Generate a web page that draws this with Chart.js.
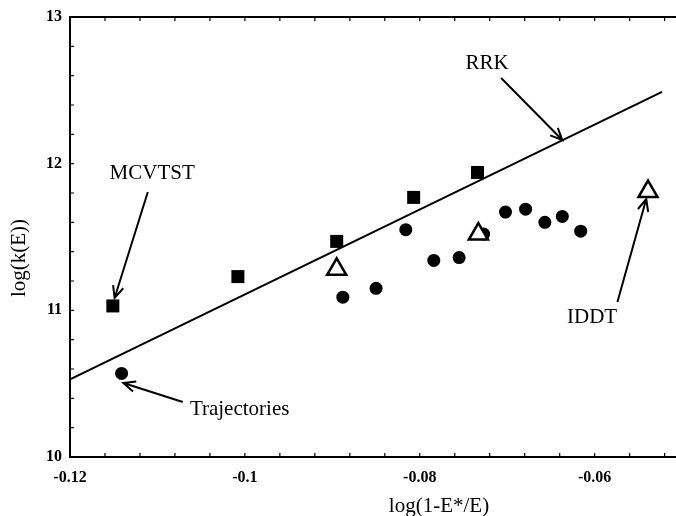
<!DOCTYPE html>
<html>
<head>
<meta charset="utf-8">
<script src="https://cdn.jsdelivr.net/npm/chart.js@4/dist/chart.umd.min.js"></script>
<style>
  html, body { margin: 0; padding: 0; background: #fff; overflow: hidden; }
  #wrap { width: 676px; height: 516px; position: relative; }
  #myChart { display: block; }
</style>
</head>
<body>
<div id="wrap"><canvas id="myChart"></canvas></div>
<script>
// MCVTST (squares)
var mcvtstX = [-0.1151, -0.1008, -0.0895, -0.0807, -0.0734];
var mcvtstY = [11.03, 11.23, 11.47, 11.77, 11.94];
// trajectories (filled circles)
var trajX = [-0.1141, -0.0888, -0.0850, -0.0816, -0.0784, -0.0755, -0.0727, -0.0702, -0.0679, -0.0657, -0.0637, -0.0616];
var trajY = [10.57, 11.09, 11.15, 11.55, 11.34, 11.36, 11.52, 11.67, 11.69, 11.60, 11.64, 11.54];
// IDDT (open triangles)
var iddtX = [-0.0895, -0.0733, -0.0539];
var iddtY = [11.28, 11.52, 11.81];
// RRK straight line
var rrkX = [-0.12, -0.0523];
var rrkY = [10.53, 12.49];

var xTickLabels = [-0.12, -0.1, -0.08, -0.06];
var yTickLabels = [10, 11, 12, 13];

// labels with arrows, in data units: text position, arrow start, arrow tip
var notes = [
    { text: 'RRK', tx: -0.0723, ty: 12.68, x1: -0.0707, y1: 12.584, x2: -0.0637, y2: 12.161 },
    { text: 'MCVTST', tx: -0.1106, ty: 11.93, x1: -0.1111, y1: 11.807, x2: -0.1149, y2: 11.084 },
    { text: 'Trajectories', tx: -0.1006, ty: 10.327, x1: -0.1071, y1: 10.375, x2: -0.1139, y2: 10.505 },
    { text: 'IDDT', tx: -0.0603, ty: 10.948, x1: -0.0574, y1: 11.057, x2: -0.0541, y2: 11.759 }
];

function pts(xs, ys) {
    return xs.map(function(x, i) { return { x: x, y: ys[i] }; });
}

function arrow(ctx, x1, y1, x2, y2) {
    var a = Math.atan2(y2 - y1, x2 - x1);
    var len = 13, spread = 0.42;
    ctx.beginPath();
    ctx.moveTo(x1, y1);
    ctx.lineTo(x2, y2);
    ctx.moveTo(x2 - len * Math.cos(a - spread), y2 - len * Math.sin(a - spread));
    ctx.lineTo(x2, y2);
    ctx.lineTo(x2 - len * Math.cos(a + spread), y2 - len * Math.sin(a + spread));
    ctx.stroke();
}

// frame, inward tick marks, axis titles and the arrow labels
var decorations = {
    id: 'decorations',
    afterDraw: function(chart) {
        var ctx = chart.ctx;
        var area = chart.chartArea;
        var xs = chart.scales.x, ys = chart.scales.y;
        ctx.save();
        ctx.strokeStyle = '#000';
        ctx.fillStyle = '#000';

        ctx.lineWidth = 2;
        ctx.beginPath();
        ctx.moveTo(area.right, area.top);
        ctx.lineTo(area.left, area.top);
        ctx.lineTo(area.left, area.bottom);
        ctx.lineTo(area.right, area.bottom);
        ctx.stroke();

        ctx.lineWidth = 1.2;
        ctx.beginPath();
        xs.ticks.forEach(function(t) {
            var px = xs.getPixelForValue(t.value);
            ctx.moveTo(px, area.bottom);
            ctx.lineTo(px, area.bottom - 4);
            ctx.moveTo(px, area.top);
            ctx.lineTo(px, area.top + 4);
        });
        ys.ticks.forEach(function(t) {
            var py = ys.getPixelForValue(t.value);
            ctx.moveTo(area.left, py);
            ctx.lineTo(area.left + 4, py);
        });
        ctx.stroke();

        ctx.font = '21px "Liberation Serif"';
        ctx.textAlign = 'center';
        ctx.textBaseline = 'middle';
        ctx.fillText('log(1-E*/E)', 439, 506);
        ctx.save();
        ctx.translate(19, 258);
        ctx.rotate(-Math.PI / 2);
        ctx.fillText('log(k(E))', 0, 0);
        ctx.restore();

        ctx.lineWidth = 2;
        notes.forEach(function(n) {
            ctx.fillText(n.text, xs.getPixelForValue(n.tx), ys.getPixelForValue(n.ty));
            arrow(ctx, xs.getPixelForValue(n.x1), ys.getPixelForValue(n.y1),
                  xs.getPixelForValue(n.x2), ys.getPixelForValue(n.y2));
        });
        ctx.restore();
    }
};

Chart.defaults.font.family = '"Liberation Serif", "Times New Roman", serif';
Chart.defaults.color = '#000';

var ctx = document.getElementById('myChart').getContext('2d');
var myChart = new Chart(ctx, {
    type: 'scatter',
    data: {
        datasets: [{
            label: 'IDDT',
            data: pts(iddtX, iddtY),
            pointStyle: 'triangle',
            pointRadius: 11,
            backgroundColor: '#fff',
            borderColor: '#000',
            borderWidth: 2.5,
            order: 0
        }, {
            label: 'Trajectories',
            data: pts(trajX, trajY),
            pointStyle: 'circle',
            pointRadius: 6.5,
            backgroundColor: '#000',
            borderColor: '#000',
            borderWidth: 0,
            order: 1
        }, {
            label: 'MCVTST',
            data: pts(mcvtstX, mcvtstY),
            pointStyle: 'rect',
            pointRadius: 9.2,
            backgroundColor: '#000',
            borderColor: '#000',
            borderWidth: 0,
            order: 2
        }, {
            label: 'RRK',
            type: 'line',
            data: pts(rrkX, rrkY),
            borderColor: '#000',
            borderWidth: 2,
            pointRadius: 0,
            fill: false,
            order: 3
        }]
    },
    options: {
        responsive: true,
        maintainAspectRatio: false,
        animation: false,
        layout: {
            autoPadding: false,
            padding: { top: 17, right: 0, left: 0, bottom: 0 }
        },
        plugins: {
            legend: { display: false },
            tooltip: { enabled: false }
        },
        scales: {
            x: {
                type: 'linear',
                min: -0.12,
                max: -0.0507,
                afterFit: function(scale) {
                    scale.height = 59;
                    scale.paddingLeft = 0;
                    scale.paddingRight = 0;
                },
                grid: { display: false, drawTicks: false },
                border: { display: false },
                ticks: {
                    stepSize: 0.004,
                    includeBounds: false,
                    autoSkip: false,
                    maxRotation: 0,
                    padding: 11,
                    font: { size: 16, weight: 'bold' },
                    callback: function(v) {
                        var r = Math.round(v * 1000) / 1000;
                        return xTickLabels.indexOf(r) >= 0 ? String(r) : '';
                    }
                }
            },
            y: {
                type: 'linear',
                min: 10,
                max: 13,
                afterFit: function(scale) {
                    scale.width = 70;
                    scale.paddingTop = 0;
                    scale.paddingBottom = 0;
                },
                grid: { display: false, drawTicks: false },
                border: { display: false },
                ticks: {
                    stepSize: 0.2,
                    includeBounds: false,
                    autoSkip: false,
                    padding: 8,
                    font: { size: 16, weight: 'bold' },
                    callback: function(v) {
                        var r = Math.round(v * 1000) / 1000;
                        return yTickLabels.indexOf(r) >= 0 ? String(r) : '';
                    }
                }
            }
        }
    },
    plugins: [decorations]
});
</script>
</body>
</html>
